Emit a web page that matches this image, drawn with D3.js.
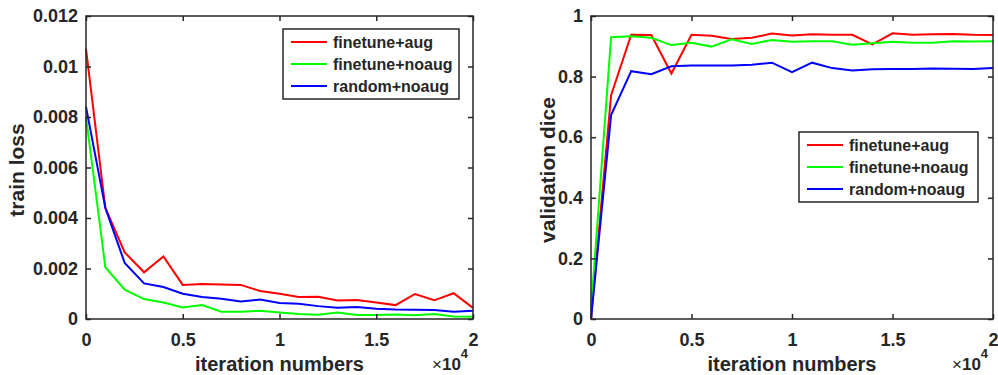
<!DOCTYPE html>
<html>
<head>
<meta charset="utf-8">
<script src="https://cdn.jsdelivr.net/npm/d3@7"></script>
<style>
  body { margin: 0; background: #fff; }
  svg text { font-family: "Liberation Sans", Arial, sans-serif; font-weight: bold; fill: #262626; }
</style>
</head>
<body>
<svg id="chart" width="998" height="375"></svg>
<script>
// iterations (shared by both panels)
const iterations = d3.range(0, 20001, 1000);

// left panel: train loss
const lossFtAug   = [0.0107, 0.0044, 0.00264, 0.00185, 0.00248, 0.00135, 0.00139, 0.00137, 0.00135, 0.00111, 0.001,
                     0.00087, 0.00088, 0.00073, 0.00075, 0.00065, 0.00055, 0.00099, 0.00074, 0.00102, 0.00044];
const lossFtNoaug = [0.0080, 0.00205, 0.00116, 0.00079, 0.00065, 0.00046, 0.00055, 0.00029, 0.00029, 0.00033, 0.00026,
                     0.0002, 0.00017, 0.00026, 0.00016, 0.00016, 0.00018, 0.00015, 0.0002, 0.0001, 0.00009];
const lossRandom  = [0.0084, 0.0044, 0.00222, 0.00141, 0.00127, 0.001, 0.00087, 0.0008, 0.00069, 0.00077, 0.00063,
                     0.0006, 0.00051, 0.00045, 0.00048, 0.00041, 0.00038, 0.00037, 0.00036, 0.00029, 0.00033];

// right panel: validation dice
const diceFtAug   = [0, 0.739, 0.938, 0.937, 0.81, 0.938, 0.935, 0.924, 0.928, 0.942, 0.936,
                     0.94, 0.938, 0.938, 0.906, 0.943, 0.938, 0.94, 0.941, 0.938, 0.937];
const diceFtNoaug = [0.03, 0.93, 0.933, 0.928, 0.904, 0.912, 0.899, 0.923, 0.908, 0.921, 0.915,
                     0.917, 0.917, 0.905, 0.91, 0.915, 0.912, 0.912, 0.917, 0.916, 0.917];
const diceRandom  = [0, 0.673, 0.818, 0.808, 0.834, 0.837, 0.837, 0.837, 0.839, 0.846, 0.815,
                     0.846, 0.828, 0.82, 0.824, 0.825, 0.825, 0.827, 0.826, 0.825, 0.828];

const seriesNames = ["finetune+aug", "finetune+noaug", "random+noaug"];
const seriesColors = ["#ff0000", "#00ff00", "#0000ff"];

const xTicks = [0, 5000, 10000, 15000, 20000];
const xTickLabels = ["0", "0.5", "1", "1.5", "2"];
const lossTicks = [0, 0.002, 0.004, 0.006, 0.008, 0.01, 0.012];
const lossTickLabels = ["0", "0.002", "0.004", "0.006", "0.008", "0.01", "0.012"];
const diceTicks = [0, 0.2, 0.4, 0.6, 0.8, 1];
const diceTickLabels = ["0", "0.2", "0.4", "0.6", "0.8", "1"];

const svg = d3.select("#chart");
const axisColor = "#262626";

function drawPanel(cfg) {
  const x = d3.scaleLinear().domain([0, 20000]).range([cfg.left, cfg.right]);
  const y = d3.scaleLinear().domain(cfg.yDomain).range([319, 16]);
  const g = svg.append("g");

  // lines
  const line = d3.line().x((d, i) => x(iterations[i])).y(d => y(d));
  cfg.series.forEach((s, i) => {
    g.append("path")
      .datum(s)
      .attr("fill", "none")
      .attr("stroke", seriesColors[i])
      .attr("stroke-width", 2)
      .attr("d", line);
  });

  // axes, ticks inside like matlab
  const bottom = g.append("g").attr("transform", `translate(0,${y.range()[0]})`)
    .call(d3.axisBottom(x).tickValues(xTicks).tickFormat((d, i) => xTickLabels[i]).tickSize(-5).tickPadding(14));
  const top = g.append("g").attr("transform", `translate(0,${y.range()[1]})`)
    .call(d3.axisTop(x).tickValues(xTicks).tickFormat("").tickSize(-5));
  const leftAx = g.append("g").attr("transform", `translate(${cfg.left},0)`)
    .call(d3.axisLeft(y).tickValues(cfg.yTicks).tickFormat((d, i) => cfg.yTickLabels[i]).tickSize(-5).tickPadding(8));
  const rightAx = g.append("g").attr("transform", `translate(${cfg.right},0)`)
    .call(d3.axisRight(y).tickValues(cfg.yTicks).tickFormat("").tickSize(-5));

  [bottom, top, leftAx, rightAx].forEach(a => {
    a.select(".domain").remove();
    a.selectAll(".tick line").attr("stroke", axisColor).attr("stroke-width", 1.5);
    a.selectAll(".tick text").attr("font-size", 18).attr("fill", axisColor)
      .style("font-family", "'Liberation Sans', Arial, sans-serif").style("font-weight", "bold");
  });

  g.append("rect")
    .attr("x", cfg.left).attr("y", 16)
    .attr("width", cfg.right - cfg.left).attr("height", 303)
    .attr("fill", "none").attr("stroke", axisColor).attr("stroke-width", 1.5);

  // axis labels
  g.append("text")
    .attr("x", (cfg.left + cfg.right) / 2).attr("y", 371)
    .attr("text-anchor", "middle").attr("font-size", 20)
    .text("iteration numbers");
  g.append("text")
    .attr("transform", `translate(${cfg.yLabelX},170) rotate(-90)`)
    .attr("text-anchor", "middle").attr("font-size", 21)
    .text(cfg.yLabel);

  // x10^4 exponent
  const ex = g.append("text")
    .attr("x", cfg.right - 41).attr("y", 370)
    .attr("font-size", 17).style("font-weight", "normal");
  ex.append("tspan").text("\u00d7").style("font-weight", "normal");
  ex.append("tspan").text("10").style("font-weight", "bold");
  ex.append("tspan").attr("dy", -12).attr("font-size", 13).style("font-weight", "bold").text("4");

  // legend
  const lg = g.append("g").attr("transform", `translate(${cfg.legendX},${cfg.legendY})`);
  lg.append("rect")
    .attr("width", cfg.legendW).attr("height", 70)
    .attr("fill", "#fff").attr("stroke", axisColor).attr("stroke-width", 1.5);
  seriesNames.forEach((name, i) => {
    const ry = 13 + i * 22;
    lg.append("line")
      .attr("x1", 8).attr("x2", 44).attr("y1", ry).attr("y2", ry)
      .attr("stroke", seriesColors[i]).attr("stroke-width", 2);
    lg.append("text")
      .attr("x", 50).attr("y", ry).attr("dy", "0.35em")
      .attr("font-size", 16)
      .text(name);
  });
}

drawPanel({
  left: 86, right: 473, yDomain: [0, 0.012],
  yTicks: lossTicks, yTickLabels: lossTickLabels,
  series: [lossFtAug, lossFtNoaug, lossRandom],
  yLabel: "train loss", yLabelX: 24,
  legendX: 283, legendY: 29, legendW: 176
});

drawPanel({
  left: 591, right: 993, yDomain: [0, 1],
  yTicks: diceTicks, yTickLabels: diceTickLabels,
  series: [diceFtAug, diceFtNoaug, diceRandom],
  yLabel: "validation dice", yLabelX: 555,
  legendX: 799, legendY: 132, legendW: 179
});
</script>
</body>
</html>
